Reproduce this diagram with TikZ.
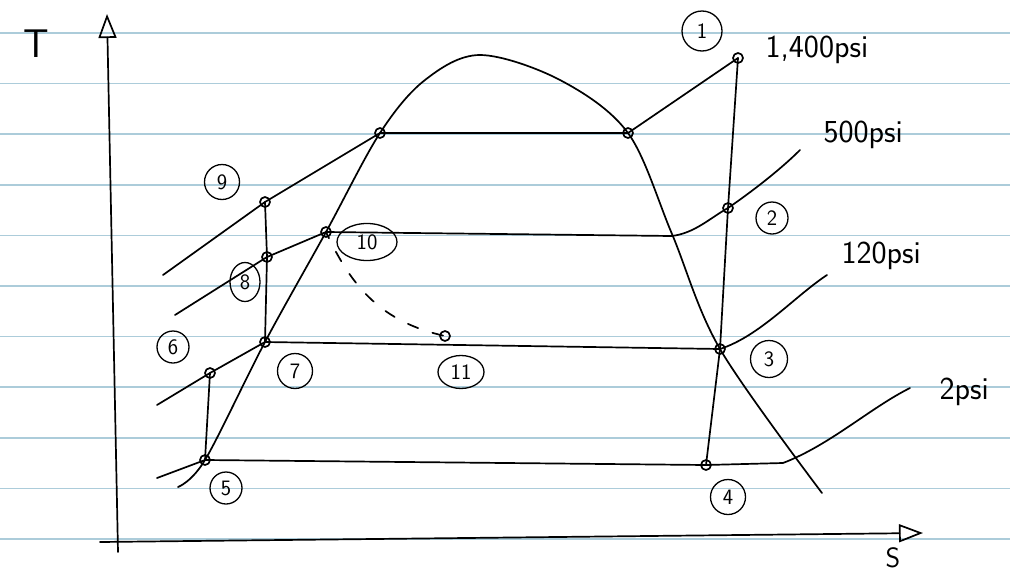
\documentclass[tikz,border=0pt]{standalone}
\usepackage{tikz}
\usetikzlibrary{arrows.meta,shapes.geometric}
\definecolor{paperblue}{RGB}{172,204,218}

\begin{document}
\begin{tikzpicture}[x=1pt, y=-1pt, line join=round, line cap=round,
    pen/.style={line width=1.7pt},
    rule/.style={line width=1.6pt, color=paperblue},
    num/.style={circle, draw, line width=1.3pt, minimum size=32pt, inner sep=0pt,
      font=\sffamily\fontsize{22}{22}\selectfont},
    numwide/.style={num, ellipse, minimum width=50pt, minimum height=34pt},
    psi/.style={anchor=west, font=\sffamily\fontsize{32}{32}\selectfont}]
      \fill[white] (0,0) rectangle (1010,576);
      \useasboundingbox (0,0) rectangle (1010,576);

      % ruled paper
      \foreach \i in {0,...,10}
        \draw[rule] (0,33+50.6*\i) -- (1010,33+50.6*\i);

      % state points
      \coordinate (P1) at (738,58);
      \coordinate (P2) at (728,208);
      \coordinate (P3) at (720,349);
      \coordinate (P4) at (706,465);
      \coordinate (P5) at (205,460);
      \coordinate (P6) at (210,373);
      \coordinate (P7) at (265,342);
      \coordinate (P8) at (267,257);
      \coordinate (P9) at (265,202);
      \coordinate (P10) at (326,232);
      \coordinate (P11) at (445,336);
      % saturation points at 1,400 psi
      \coordinate (PA) at (380,133);
      \coordinate (PB) at (628,133);

      % axes
      \draw[pen, -{Triangle[open, length=24pt, width=18pt]}] (118,552) -- (107,14);
      \draw[pen, -{Triangle[open, length=24pt, width=18pt]}] (100,542) -- (923,533);
      \node[font=\sffamily\fontsize{40}{40}\selectfont] (Tlab) at (36,44) {T};
      \node[font=\sffamily\fontsize{28}{28}\selectfont] (Slab) at (893,558) {S};

      % vapour dome
      \draw[pen] plot[smooth, tension=0.55] coordinates {(178,487) (P5) (P7) (P10) (PA)
        (425,80) (480,55) (560,80) (PB) (672,234) (P3) (822,493)};

      % isobars
      \draw[pen] (163,275) -- (P9) -- (PA) -- (PB) -- (P1);
      \draw[pen] (175,315) -- (P8) -- (P10) -- (672,236)
        .. controls (695,233) and (710,218) .. (P2)
        .. controls (750,193) and (780,170) .. (800,150);
      \draw[pen] (157,405) -- (P6) -- (P7) -- (P3)
        .. controls (760,336) and (795,296) .. (827,275);
      \draw[pen] (157,478) -- (P5) -- (P4) -- (783,463)
        .. controls (830,445) and (870,408) .. (910,388);

      % turbine and pumps
      \draw[pen] (P1) -- (P2) -- (P3) -- (P4);
      \draw[pen] (P5) -- (P6);
      \draw[pen] (P7) -- (P8) -- (P9);
      \draw[pen, dash pattern=on 11pt off 15pt, dash phase=-22pt] (P10)
        .. controls (352,288) and (382,322) .. (P11);

      \foreach \p in {P1,P2,P3,P4,P5,P6,P7,P8,P9,P10,P11,PA,PB}
        \draw[pen] (\p) circle (5pt);

      % state labels
      \node[num, minimum size=40pt] (L1) at (702,31) {1};
      \node[num] (L2) at (772,218) {2};
      \node[num, minimum size=37pt] (L3) at (769,359) {3};
      \node[num, minimum size=35pt] (L4) at (728,497) {4};
      \node[num] (L5) at (226,488) {5};
      \node[num] (L6) at (173,347) {6};
      \node[num, minimum size=35pt] (L7) at (295,371) {7};
      \node[num, ellipse, minimum width=30pt, minimum height=39pt] (L8) at (245,282) {8};
      \node[num, minimum size=35pt] (L9) at (222,182) {9};
      \node[numwide, minimum width=60pt, minimum height=37pt] (L10) at (367,242) {10};
      \node[numwide, minimum width=46pt, minimum height=33pt] (L11) at (461,372) {11};

      % pressure labels
      \node[psi] (S1400) at (762,50) {1,400psi};
      \node[psi] (S500) at (820,135) {500psi};
      \node[psi] (S120) at (838,256) {120psi};
      \node[psi] (S2) at (936,392) {2psi};
\end{tikzpicture}
\end{document}
